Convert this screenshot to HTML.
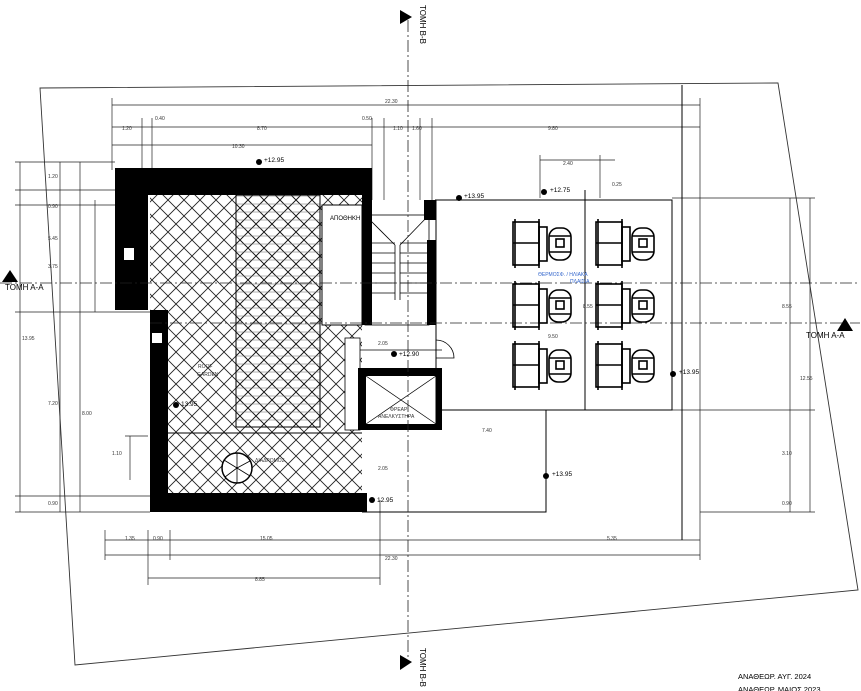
<!DOCTYPE html>
<html><head><meta charset="utf-8"><style>
html,body{margin:0;padding:0;background:#fff;}
svg{display:block;font-family:"Liberation Sans","DejaVu Sans",sans-serif;}
</style></head><body>
<svg width="861" height="691" viewBox="0 0 861 691" xmlns="http://www.w3.org/2000/svg">
<defs>
<pattern id="hx" width="16" height="16" patternUnits="userSpaceOnUse">
<path d="M0 0L16 16M16 0L0 16" stroke="#222" stroke-width="0.9"/>
</pattern>
<pattern id="hx2" width="16" height="16" patternUnits="userSpaceOnUse">
<path d="M0 0L16 16M16 0L0 16" stroke="#222" stroke-width="0.9"/>
<path d="M0 4H16M0 12H16" stroke="#666" stroke-width="0.5"/>
</pattern>
<g id="chair" fill="none" stroke="#000" stroke-width="1.6">
<rect x="0" y="0" width="26" height="43"/>
<line x1="0" y1="21" x2="26" y2="21"/>
<line x1="2" y1="-3" x2="2" y2="46"/><line x1="26" y1="-3" x2="26" y2="46"/>
<rect x="26" y="5" width="8" height="34"/>
<rect x="36" y="6" width="22" height="32" rx="9"/>
<line x1="36" y1="14" x2="58" y2="14"/><line x1="36" y1="30" x2="58" y2="30"/>
<rect x="43" y="17" width="8" height="8"/>
</g>
</defs>
<rect width="861" height="691" fill="#fff"/>
<polygon points="40,88 778,83 858,590 75,665" fill="none" stroke="#333" stroke-width="0.9"/>
<g stroke="#222" stroke-width="0.7" fill="none">
<line x1="112" y1="105" x2="700" y2="105"/>
<line x1="112" y1="127" x2="700" y2="127"/>
<line x1="112" y1="145" x2="372" y2="145"/>
<line x1="112" y1="98" x2="112" y2="170"/>
<line x1="700" y1="98" x2="700" y2="200"/>
<line x1="142" y1="118" x2="142" y2="170"/>
<line x1="152" y1="118" x2="152" y2="170"/>
<line x1="372" y1="118" x2="372" y2="200"/>
<line x1="384" y1="118" x2="384" y2="200"/>
<line x1="420" y1="118" x2="420" y2="200"/>
<line x1="432" y1="118" x2="432" y2="200"/>
<line x1="20" y1="162" x2="20" y2="512"/>
<line x1="60" y1="162" x2="60" y2="512"/>
<line x1="80" y1="162" x2="80" y2="512"/>
<line x1="95" y1="200" x2="95" y2="312"/>
<line x1="15" y1="162" x2="115" y2="162"/>
<line x1="15" y1="190" x2="115" y2="190"/>
<line x1="15" y1="205" x2="115" y2="205"/>
<line x1="15" y1="312" x2="150" y2="312"/>
<line x1="15" y1="496" x2="150" y2="496"/>
<line x1="15" y1="512" x2="150" y2="512"/>
<line x1="105" y1="540" x2="700" y2="540"/>
<line x1="105" y1="555" x2="700" y2="555"/>
<line x1="148" y1="578" x2="380" y2="578"/>
<line x1="148" y1="530" x2="148" y2="585"/>
<line x1="170" y1="530" x2="170" y2="560"/>
<line x1="380" y1="500" x2="380" y2="585"/>
<line x1="105" y1="530" x2="105" y2="560"/>
<line x1="700" y1="200" x2="700" y2="560"/>
<line x1="790" y1="198" x2="790" y2="512"/>
<line x1="810" y1="198" x2="810" y2="512"/>
<line x1="672" y1="198" x2="815" y2="198"/>
<line x1="700" y1="512" x2="815" y2="512"/>
<line x1="546" y1="410" x2="815" y2="410"/>
<line x1="540" y1="160" x2="615" y2="160"/>
<line x1="540" y1="155" x2="540" y2="198"/>
<line x1="600" y1="155" x2="600" y2="198"/>
<line x1="130" y1="436" x2="130" y2="480"/>
<line x1="125" y1="436" x2="148" y2="436"/>
</g>
<g font-size="5" fill="#333">
<text x="385" y="103">22.30</text><text x="122" y="130">1.20</text><text x="155" y="120">0.40</text>
<text x="257" y="130">8.70</text><text x="232" y="148">10.30</text><text x="362" y="120">0.50</text>
<text x="393" y="130">1.10</text><text x="412" y="130">1.60</text><text x="548" y="130">9.80</text>
<text x="48" y="178">1.20</text><text x="48" y="208">0.90</text><text x="48" y="240">5.45</text>
<text x="48" y="268">3.75</text><text x="22" y="340">13.95</text><text x="48" y="405">7.20</text><text x="82" y="415">8.00</text>
<text x="48" y="505">0.90</text><text x="112" y="455">1.10</text>
<text x="125" y="540">1.35</text><text x="153" y="540">0.90</text><text x="260" y="540">15.05</text>
<text x="607" y="540">5.35</text><text x="385" y="560">22.30</text><text x="255" y="581">8.85</text>
<text x="782" y="308">8.55</text><text x="800" y="380">12.55</text><text x="782" y="455">3.10</text><text x="782" y="505">0.90</text>
<text x="563" y="165">2.40</text><text x="612" y="186">0.25</text>
<text x="482" y="432">7.40</text><text x="548" y="338">9.50</text><text x="583" y="308">8.55</text>
<text x="378" y="345">2.05</text><text x="378" y="470">2.05</text>
</g>
<g stroke="#000" stroke-width="1" fill="none">
<polyline points="435,200 672,200 672,410 546,410 546,512 362,512"/>
<line x1="585" y1="190" x2="585" y2="410"/>
<line x1="436" y1="410" x2="546" y2="410"/>
<line x1="682" y1="85" x2="682" y2="540"/>
<line x1="436" y1="200" x2="436" y2="430"/>
</g>
<rect x="150" y="195" width="212" height="298" fill="url(#hx)"/>
<rect x="236" y="195" width="84" height="232" fill="url(#hx2)"/>
<g stroke="#000" stroke-width="1" fill="none">
<rect x="236" y="195" width="84" height="232"/>
<line x1="168" y1="433" x2="362" y2="433"/>
<circle cx="237" cy="468" r="15" fill="#fff" stroke-width="1.5"/>
<path d="M237 468L237 453M237 468L250 461M237 468L250 476M237 468L237 483M237 468L225 477M237 468L224 460" stroke-width="0.8"/>
</g>
<rect x="322" y="205" width="40" height="120" fill="#fff" stroke="#000"/>
<rect x="345" y="338" width="15" height="92" fill="#fff" stroke="#000" stroke-width="0.8"/>
<g fill="#000">
<polygon points="115,168 372,168 372,195 148,195 148,310 115,310"/>
<rect x="150" y="310" width="18" height="202"/>
<rect x="150" y="493" width="217" height="19"/>
<rect x="362" y="195" width="10" height="130"/>
<rect x="424" y="200" width="12" height="20"/>
<rect x="427" y="240" width="9" height="85"/>
<rect x="358" y="368" width="84" height="8"/>
<rect x="358" y="368" width="8" height="60"/>
<rect x="436" y="368" width="6" height="60"/>
<rect x="358" y="424" width="84" height="6"/>
</g>
<rect x="124" y="248" width="10" height="12" fill="#fff"/>
<rect x="152" y="333" width="10" height="10" fill="#fff"/>
<g stroke="#000" stroke-width="0.7"><line x1="366" y1="376" x2="436" y2="424"/><line x1="436" y1="376" x2="366" y2="424"/></g>
<g stroke="#000" stroke-width="0.8" fill="none">
<rect x="365" y="215" width="64" height="110"/>
<line x1="395" y1="245" x2="395" y2="300"/><line x1="400" y1="245" x2="400" y2="300"/>
<line x1="365" y1="243" x2="395" y2="243"/><line x1="365" y1="253" x2="395" y2="253"/><line x1="365" y1="263" x2="395" y2="263"/>
<line x1="365" y1="273" x2="395" y2="273"/><line x1="365" y1="283" x2="395" y2="283"/><line x1="365" y1="293" x2="395" y2="293"/>
<line x1="400" y1="243" x2="429" y2="243"/><line x1="400" y1="253" x2="429" y2="253"/><line x1="400" y1="263" x2="429" y2="263"/>
<line x1="400" y1="273" x2="429" y2="273"/><line x1="400" y1="283" x2="429" y2="283"/><line x1="400" y1="293" x2="429" y2="293"/>
<line x1="365" y1="215" x2="395" y2="245"/><line x1="429" y1="215" x2="400" y2="245"/>
<path d="M436 340 a18 18 0 0 1 18 18 L436 358"/>
<line x1="360" y1="350" x2="442" y2="350"/>
</g>
<g stroke="#222" stroke-width="0.8" stroke-dasharray="12,3,2,3" fill="none">
<line x1="0" y1="283" x2="860" y2="283"/>
<line x1="150" y1="323" x2="860" y2="323"/>
<line x1="408" y1="20" x2="408" y2="660"/>
</g>
<use href="#chair" x="513" y="222"/><use href="#chair" x="596" y="222"/>
<use href="#chair" x="513" y="284"/><use href="#chair" x="596" y="284"/>
<use href="#chair" x="513" y="344"/><use href="#chair" x="596" y="344"/>
<g fill="#000" font-size="6.5">
<circle cx="259" cy="162" r="3"/><text x="264" y="162">+12.95</text>
<circle cx="459" cy="198" r="3"/><text x="464" y="198">+13.95</text>
<circle cx="544" cy="192" r="3"/><text x="550" y="192">+12.75</text>
<circle cx="394" cy="354" r="3"/><text x="399" y="356">+12.90</text>
<circle cx="673" cy="374" r="3"/><text x="679" y="374">+13.95</text>
<circle cx="546" cy="476" r="3"/><text x="552" y="476">+13.95</text>
<circle cx="176" cy="405" r="3"/><text x="181" y="406">13.95</text>
<circle cx="372" cy="500" r="3"/><text x="377" y="502">12.95</text>
</g>
<g font-size="5" fill="#333">
<text x="330" y="220" font-size="6" fill="#000">ΑΠΟΘΗΚΗ</text>
<text x="538" y="276" fill="#36c">ΘΕΡΜΟΣΦ. / ΗΛΙΑΚΑ</text><text x="570" y="283" fill="#36c">ΠΛΑΙΣΙΑ</text>
<text x="390" y="411">ΦΡΕΑΡ</text><text x="378" y="418">ΑΝΕΛΚΥΣΤΗΡΑ</text>
<text x="198" y="368">ROOF</text><text x="197" y="376">GARDEN</text>
<text x="255" y="462">ΔΙΑΔΡΟΜΟΣ</text>
</g>
<g font-size="8" fill="#000">
<polygon points="10,270 2,282 18,282"/><text x="5" y="290">ΤΟΜΗ Α-Α</text>
<polygon points="845,318 837,331 853,331"/><text x="806" y="338">ΤΟΜΗ Α-Α</text>
<polygon points="400,10 400,24 412,17"/><text transform="translate(420,5) rotate(90)">ΤΟΜΗ Β-Β</text>
<polygon points="400,655 400,670 412,662"/><text transform="translate(420,648) rotate(90)">ΤΟΜΗ Β-Β</text>
<text x="738" y="679" font-size="7.5">ΑΝΑΘΕΩΡ. ΑΥΓ. 2024</text>
<text x="738" y="692" font-size="7.5">ΑΝΑΘΕΩΡ. ΜΑΙΟΣ 2023</text>
</g>
</svg>
</body></html>
